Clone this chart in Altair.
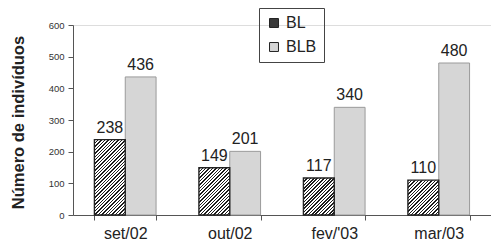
import altair as alt
import pandas as pd

months = ["set/02", "out/02", "fev/'03", "mar/03"]
series = ["BL", "BLB"]
bl = [238, 149, 117, 110]
blb = [436, 201, 340, 480]
y_ticks = [0, 100, 200, 300, 400, 500, 600]

rows = []
for m, a, b in zip(months, bl, blb):
    rows.append({"month": m, "series": "BL", "value": a})
    rows.append({"month": m, "series": "BLB", "value": b})
df = pd.DataFrame(rows)

W, H = 418, 190
PAD_L, PAD_T, TOTAL_H = 65, 17, 236
P_IN = 0.41
step = W / len(months)
bar_w = step * (1 - P_IN) / 2
ppu = H / 600.0
period = 3.4
FONT = "Liberation Sans"
FS = 16


def hatch(h):
    w = bar_w
    s = w * w + h * h
    a = w * (w + h) / s
    b = h * (w + h) / s
    n = (w + h) / period
    stops = []
    k = 0
    while k < n:
        o0 = k / n
        o1 = min((k + 0.42) / n, 1.0)
        o2 = min((k + 1) / n, 1.0)
        stops += [
            {"offset": o0, "color": "#1c1c1c"},
            {"offset": o1, "color": "#1c1c1c"},
            {"offset": o1, "color": "#ffffff"},
            {"offset": o2, "color": "#ffffff"},
        ]
        k += 1
    return {"gradient": "linear", "x1": 0, "y1": 0, "x2": a, "y2": b, "stops": stops}


x_enc = alt.X(
    "month:N",
    sort=months,
    scale=alt.Scale(domain=months, paddingInner=P_IN, paddingOuter=P_IN / 2),
    axis=alt.Axis(
        title=None, labelAngle=0, tickBand="extent", tickSize=5, labelPadding=5,
        labelFontSize=FS, labelColor="#222", domainColor="#555", tickColor="#555",
        labelFont=FONT,
    ),
)
xo_enc = alt.XOffset("series:N", scale=alt.Scale(domain=series, paddingInner=0))
y_enc = alt.Y(
    "value:Q",
    scale=alt.Scale(domain=[0, 600], nice=False),
    axis=alt.Axis(
        values=y_ticks, title="Número de indivíduos", grid=False, tickSize=5,
        labelFontSize=9.5, labelColor="#333", labelPadding=4, domainColor="#555",
        tickColor="#555", titleFontSize=16.5, titleFontWeight="bold", titleColor="#222",
        titleFont=FONT, labelFont=FONT, titleX=-55, titleY=97, titleAngle=-90,
        titleAlign="center", titleBaseline="middle",
    ),
)

base = alt.Chart(df)

blb_layer = base.transform_filter(alt.datum.series == "BLB").mark_bar(
    stroke="#9a9a9a", strokeWidth=1
).encode(
    x=x_enc, xOffset=xo_enc, y=y_enc,
    color=alt.Color(
        "series:N",
        scale=alt.Scale(domain=series, range=["#3a3a3a", "#d6d6d6"]),
        legend=alt.Legend(
            title=None, orient="none", legendX=186, legendY=-17, direction="vertical",
            symbolType="square", symbolSize=80, symbolStrokeColor="#222",
            symbolStrokeWidth=1, labelFontSize=FS, labelFont=FONT, labelColor="#222",
            strokeColor="#444", padding=7, rowPadding=8, labelOffset=4,
        ),
    ),
)

layers = [blb_layer]
for m, v in zip(months, bl):
    layers.append(
        base.transform_filter((alt.datum.series == "BL") & (alt.datum.month == m))
        .mark_bar(stroke="#222", strokeWidth=1.4)
        .encode(x=x_enc, xOffset=xo_enc, y=y_enc, fill=alt.value(hatch(v * ppu)))
    )

text_layer = base.mark_text(dy=-12, fontSize=FS, font=FONT, color="#222").encode(
    x=x_enc, xOffset=xo_enc, y=y_enc, text="value:Q"
)
layers.append(text_layer)

chart = alt.layer(*layers).properties(
    width=W, height=H,
    autosize=alt.AutoSizeParams(type="none"),
    padding={"left": PAD_L, "top": PAD_T, "right": 0, "bottom": TOTAL_H - PAD_T - H},
).configure_view(stroke=None).configure(font=FONT)

chart.save("out.html", embed_options={"renderer": "svg", "actions": False})
